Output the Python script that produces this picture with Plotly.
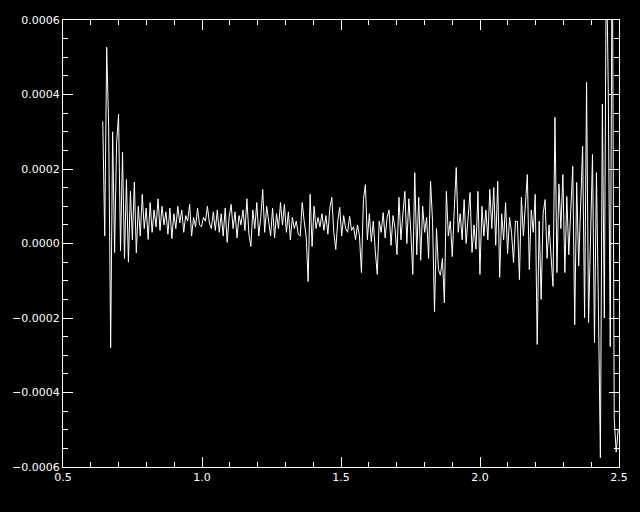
import numpy as np
import plotly.graph_objects as go

# Values, in units of 1e-6
y_micro = [
    328, 20, 527, 312, -280, 300, -24, 270, 347, -20,
    245, -40, 172, -50, 140, 10, 165, -25, 100, 20,
    132, 40, 95, 11, 110, 30, 90, 45, 120, 35,
    100, 50, 85, 25, 95, 13, 80, 40, 100, 55,
    90, 30, 75, 60, 105, 20, 70, 45, 95, 50,
    45, 70, 60, 100, 55, 40, 85, 35, 90, 30,
    80, 20, 95, 3, 70, 105, 40, 85, 15, 75,
    50, 90, 35, 120, 25, -8, 90, 40, 110, 20,
    70, 145, 30, 100, 60, 20, 95, 15, 80, 40,
    110, 50, 105, 30, 85, 10, 70, 40, 60, 25,
    20, 110, 60, 20, -102, 132, -8, 100, 40, 70,
    45, 80, 35, 75, 25, 95, 124, 30, -16, 60,
    97, 20, 75, 40, 30, 73, 35, 45, 10, 50,
    20, -78, 118, 158, 10, 80, 5, 60, -20, -83,
    60, 30, 83, 15, 70, 90, -5, 75, 40, -30,
    124, 10, 80, 140, 0, 120, 30, -83, 190, -30,
    124, -45, 100, 30, 70, -40, 167, 60, -183, 40,
    -70, -85, -40, -159, 140, 20, 60, -35, 91, 204,
    30, 80, 10, 118, 0, 60, 137, -24, 50, -15,
    140, -83, 100, 20, 90, 10, 145, 40, 150, -5,
    167, -91, 80, 10, 110, -27, 70, 30, -51, 60,
    59, -97, 124, 20, 110, 185, -70, 90, 30, 132,
    -271, 60, -150, 80, 118, -40, 50, -20, -115, 339,
    -78, 160, 40, 185, -78, 126, -30, 90, 207, -218,
    164, -60, 100, 261, -199, 433, -212, 60, 239, -266,
    190, -170, -575, 374, -200, 800, 406, -277, 900, -470, -560, -500,
]
x_start, x_end = 0.643, 2.497
y_ticks = [-0.0006, -0.0004, -0.0002, 0.0, 0.0002, 0.0004, 0.0006]
x_ticks = [0.5, 1.0, 1.5, 2.0, 2.5]

y = [v * 1e-6 for v in y_micro]
x = np.linspace(x_start, x_end, len(y))

fig = go.Figure(go.Scatter(x=x, y=y, mode="lines",
                           line=dict(color="white", width=1)))

axis_common = dict(
    showgrid=False, zeroline=False, showline=True, linecolor="white",
    linewidth=1, mirror="ticks", ticks="inside", tickcolor="white",
    ticklen=10, tickwidth=1,
    tickfont=dict(family="DejaVu Sans", size=11, color="white"),
)

fig.update_xaxes(range=[0.5, 2.5], tickvals=x_ticks, tickformat=".1f",
                 minor=dict(dtick=0.1, ticks="inside", ticklen=5,
                            tickcolor="white", tickwidth=1),
                 **axis_common)
fig.update_yaxes(range=[-0.0006, 0.0006], tickvals=y_ticks, tickformat=".4f",
                 minor=dict(dtick=0.00005, ticks="inside", ticklen=5,
                            tickcolor="white", tickwidth=1),
                 **axis_common)

fig.update_layout(width=640, height=512, paper_bgcolor="black",
                  plot_bgcolor="black", showlegend=False,
                  margin=dict(l=61, r=18, t=20, b=45))

fig.write_html("out.html",
               config={"displayModeBar": False},
               post_script="document.body.style.margin='0';"
                           "document.body.style.background='black';")
